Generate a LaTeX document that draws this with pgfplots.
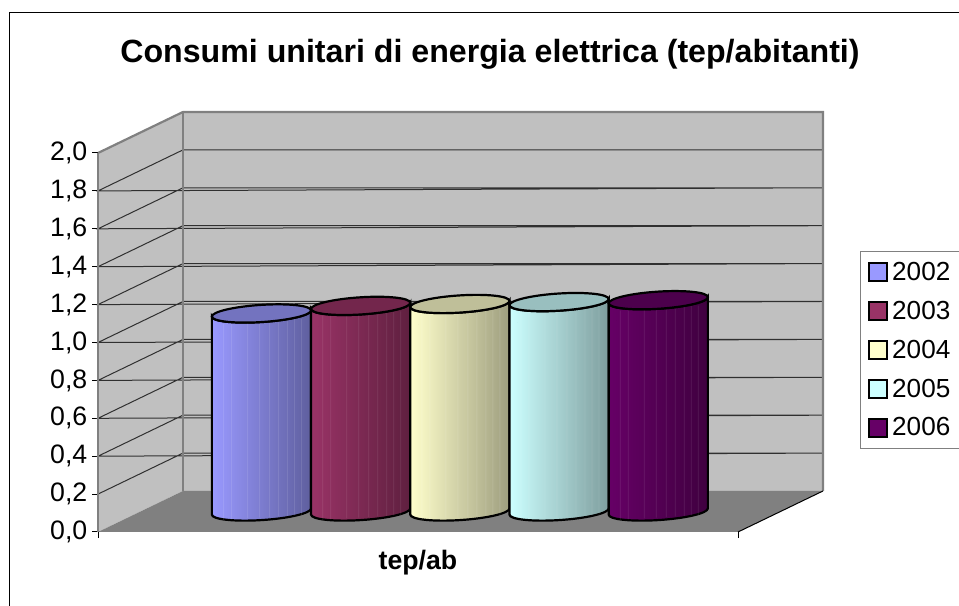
\documentclass[border=0pt]{standalone}
\usepackage{fontspec}
\setmainfont{Liberation Sans}
\usepackage{pgfplots}
\usepackage{pgfplotstable}
\pgfplotsset{compat=1.18}
\definecolor{wallc}{HTML}{C0C0C0}
\definecolor{floorc}{HTML}{808080}
\definecolor{edgec}{HTML}{808080}
\definecolor{gridc}{HTML}{303030}
\definecolor{cA}{HTML}{9999FF}
\definecolor{cB}{HTML}{993366}
\definecolor{cC}{HTML}{FFFFCC}
\definecolor{cD}{HTML}{CCFFFF}
\definecolor{cE}{HTML}{660066}

% one pixel of the reference
\newcommand{\px}{0.75pt}

% gridlines: side wall, then back wall
\pgfplotstableread{
x y
0 0.2
0.1328 0.4164
1.1328 0.4164

0 0.4
0.1328 0.6164
1.1328 0.6164

0 0.6
0.1328 0.8164
1.1328 0.8164

0 0.8
0.1328 1.0164
1.1328 1.0164

0 1.0
0.1328 1.2164
1.1328 1.2164

0 1.2
0.1328 1.4164
1.1328 1.4164

0 1.4
0.1328 1.6164
1.1328 1.6164

0 1.6
0.1328 1.8164
1.1328 1.8164

0 1.8
0.1328 2.0164
1.1328 2.0164
}\gridtable

% cylinder of one series: #1 colour, height taken from the data point
\newcommand{\cylinder}[1]{%
  \pgfmathsetmacro{\cylh}{\rawy*189.5}%
  \begin{scope}[x=\px,y=\px,line width=2.2*\px,draw=black]
    % shear about the data point, then move to the middle of the depth
    \pgfgettransformentries{\ta}{\tb}{\tc}{\td}{\te}{\tf}%
    \pgfmathsetlengthmacro{\dy}{15.375pt-0.062*\te}%
    \pgflowlevel{\pgftransformcm{1}{0.062}{0}{1}{\pgfqpoint{31.4pt}{\dy}}}%
    \draw[left color=#1,right color=#1!62!black]
      (-49.6,0) -- (-49.6,-\cylh) arc[start angle=180,end angle=360,x radius=49.6,y radius=8.6]
      -- (49.6,0) arc[start angle=0,end angle=-180,x radius=49.6,y radius=8.6] -- cycle;
    \foreach \sx in {-38,-30,-14,-2,8,17,26,33,40}
      \draw[white,opacity=0.10,line width=0.8*\px] (\sx,-8) -- (\sx,-\cylh-6);
    \draw[fill=#1!75!black] (0,0) ellipse[x radius=49.6,y radius=8.6];
  \end{scope}%
}
\pgfplotsset{cyl/.style={forget plot,scatter,only marks,mark=*,mark size=0pt,
    mark options={draw=none,fill=none},
    scatter/@pre marker code/.code={\cylinder{#1}},
    scatter/@post marker code/.code={}},
  swatch/.style={legend image code/.code={
    \draw[black,line width=2*\px,fill=#1] (0pt,-6.6pt) rectangle (13.2pt,6.6pt);}}}

\begin{document}
\begin{tikzpicture}[x=\px,y=\px]
\clip (0,0) rectangle (959,606);
\path[use as bounding box] (0,0) rectangle (959,606);
\draw[black,line width=1*\px] (9.5,-20) rectangle (1000,593.5);
\begin{axis}[
    at={(98*\px,74*\px)}, anchor=south west,
    scale only axis,
    width=640*\px, height=379*\px,
    xmin=0, xmax=1, ymin=0, ymax=2,
    clip=false,
    axis x line*=bottom, axis y line*=left,
    axis line style={black,line width=1*\px,-},
    tick style={black,line width=1*\px},
    tickwidth=6*\px,
    tick align=outside,
    xtick={0,1}, xticklabels={,},
    ytick={0,0.2,...,2.0},
    yticklabel style={/pgf/number format/.cd,fixed,fixed zerofill,precision=1,use comma,assume math mode=true},
    tick label style={font=\fontsize{20pt}{24pt}\selectfont,text=black},
    every axis title shift=0pt,
    title={\bfseries Consumi unitari di energia elettrica (tep/abitanti)},
    title style={at={(0.6125,1.2388)},anchor=base,inner sep=0pt,
      font=\fontsize{24.1pt}{28pt}\selectfont},
    xlabel={\bfseries tep/ab},
    xlabel style={at={(0.5,-0.1)},anchor=base,inner sep=0pt,yshift=0pt,
      font=\fontsize{20pt}{24pt}\selectfont},
    legend style={at={(1.1906,0.742)},anchor=north west,draw=edgec,
      line width=1.2*\px,fill=white,inner xsep=5.5pt,inner ysep=6pt,
      font=\fontsize{19.6pt}{22pt}\selectfont,row sep=10pt},
    legend cell align=left,
    visualization depends on={y \as \rawy},
  ]
  % walls and floor
  \addplot[fill=wallc,draw=none,forget plot] coordinates {(0,0)(0.1328,0.2164)(0.1328,2.2164)(0,2)} -- cycle;
  \addplot[fill=wallc,draw=none,forget plot] coordinates {(0.1328,0.2164)(1.1328,0.2164)(1.1328,2.2164)(0.1328,2.2164)} -- cycle;
  \addplot[fill=floorc,draw=none,forget plot] coordinates {(0,0)(1,0)(1.1328,0.2164)(0.1328,0.2164)} -- cycle;
  \addplot[gridc,line width=1*\px,forget plot] table[x=x,y=y] {\gridtable};
  \addplot[edgec,line width=2.2*\px,forget plot] coordinates {(0,2)(0.1328,2.2164)(1.1328,2.2164)(1.1328,0.2164)};
  \addplot[edgec,line width=2.2*\px,forget plot] coordinates {(0.1328,0.2164)(0.1328,2.2164)};
  \addplot[edgec,line width=1.2*\px,forget plot] coordinates {(0,0)(0,2)};
  \addplot[black,line width=1*\px,forget plot] coordinates {(1,0)(1.1328,0.2164)};
  % cylinders
  \addplot[cyl=cA] coordinates {(0.19,1.045)};
  \addplot[cyl=cB] coordinates {(0.345,1.085)};
  \addplot[cyl=cC] coordinates {(0.5,1.095)};
  \addplot[cyl=cD] coordinates {(0.655,1.105)};
  \addplot[cyl=cE] coordinates {(0.81,1.115)};
  % legend
  \addlegendimage{swatch=cA}\addlegendentry{\hspace{1.5pt}2002\hspace{20pt}}
  \addlegendimage{swatch=cB}\addlegendentry{\hspace{1.5pt}2003\hspace{20pt}}
  \addlegendimage{swatch=cC}\addlegendentry{\hspace{1.5pt}2004\hspace{20pt}}
  \addlegendimage{swatch=cD}\addlegendentry{\hspace{1.5pt}2005\hspace{20pt}}
  \addlegendimage{swatch=cE}\addlegendentry{\hspace{1.5pt}2006\hspace{20pt}}
\end{axis}
\end{tikzpicture}
\end{document}
